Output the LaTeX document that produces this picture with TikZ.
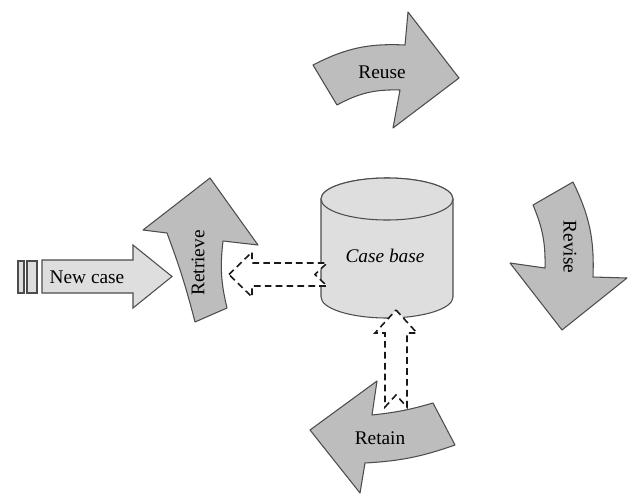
\documentclass[tikz,border=0pt]{standalone}
\usepackage{fontspec}
\setmainfont{Liberation Serif}
\usepackage{tikz}

\begin{document}
\begin{tikzpicture}[
    x=0.02cm, y=0.02cm,
    cycleArrow/.style={draw=black!70, fill=black!26, line width=0.6pt, line join=round},
    inputArrow/.style={draw=black!70, fill=black!13, line width=0.6pt},
    store/.style={draw=black!70, fill=black!13, line width=0.6pt},
    flow/.style={draw=black!90, fill=white, dash pattern=on 3.8pt off 2.4pt, line width=0.9pt},
    label/.style={font=\fontsize{11}{13}\selectfont, inner sep=0pt}
]
\useasboundingbox (0,0) rectangle (628,495);

% New case
\draw[inputArrow] (18,202) rectangle (24,234);
\draw[inputArrow] (27,202) rectangle (37,234);
\draw[inputArrow] (42,202) -- (42,235) -- (133,235) -- (133,250) -- (172,218.5)
    -- (133,187) -- (133,202) -- cycle;
\node[label] (newCase) at (87,218) {New case};

% Case base
\draw[store] (321,296) -- (321,198)
    arc[start angle=180, end angle=360, x radius=66, y radius=21]
    -- (453,296) arc[start angle=0, end angle=180, x radius=66, y radius=21] -- cycle;
\draw[store] (387,296) ellipse[x radius=66, y radius=21];
\node[label, font=\fontsize{11}{13}\selectfont\itshape] (caseBase) at (385,239) {Case base};

% Cycle arrows
\draw[cycleArrow] (313,430) to[bend left=15] (405,450) -- (408,483) -- (459,417)
    -- (393,367) -- (400,405) to[bend right=15] (337,390) -- cycle;
\node[label] (reuse) at (382,423) {Reuse};

\draw[cycleArrow] (533,290) -- (573,313) to[bend left=14] (593,218) -- (627,217)
    -- (562,165) -- (510,232) -- (545,227) to[bend right=12] cycle;
\node[label, rotate=-90] (revise) at (570,248) {Revise};

\draw[cycleArrow] (310,65) -- (377,114) -- (372,80) to[bend right=5] (433,92)
    -- (455,50) to[bend left=8] (365,32) -- (360,2) -- cycle;
\node[label] (retain) at (380,57) {Retain};

\draw[cycleArrow] (210,317) -- (258,250) -- (223,254) to[bend right=10] (227,187)
    -- (195,173) to[bend right=3] (167,262) -- (143,265) -- cycle;
\node[label, rotate=90] (retrieve) at (198,232) {Retrieve};

% Links to the case base
\draw[flow] (229,220.5) -- (252,243) -- (252,232) -- (327,232) -- (315,220.5)
    -- (327,209) -- (252,209) -- (252,198) -- cycle;
\draw[flow] (396,185) -- (417,162) -- (407,162) -- (407,88) -- (396,100)
    -- (385,88) -- (385,162) -- (375,162) -- cycle;

\end{tikzpicture}
\end{document}
